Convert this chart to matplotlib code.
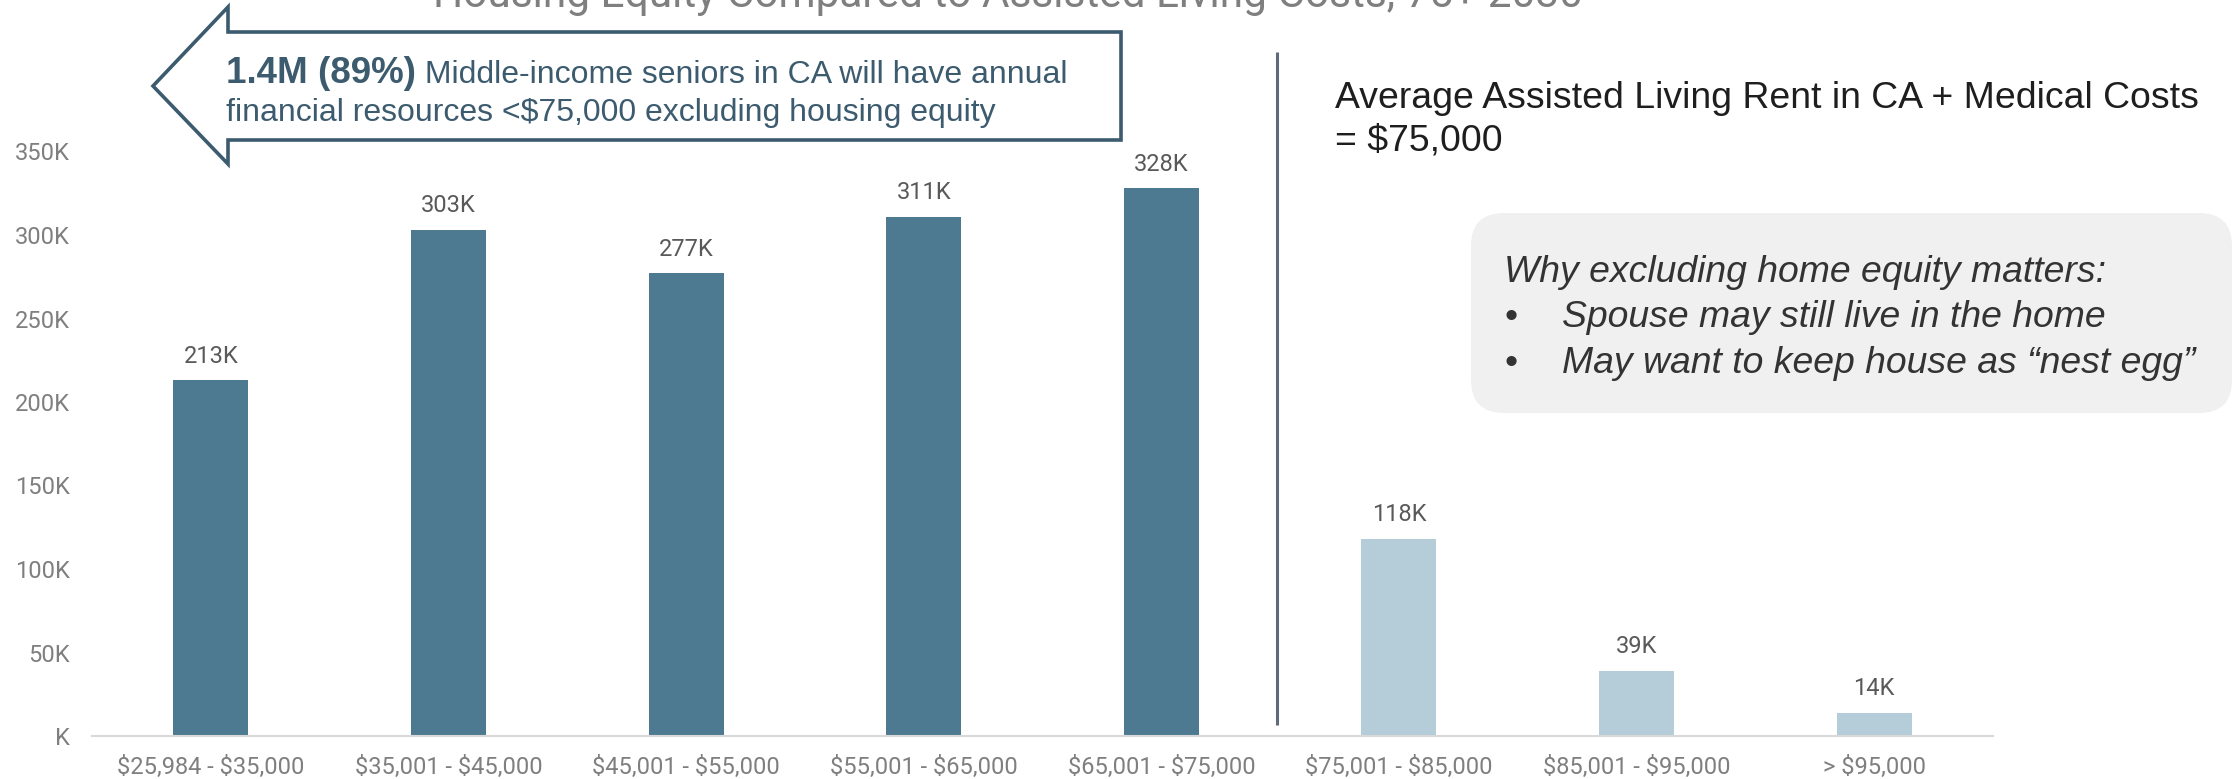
import numpy as np
import matplotlib.pyplot as plt
from matplotlib.patches import Polygon, FancyBboxPatch

plt.rcParams['font.family'] = ['Roboto', 'DejaVu Sans']

W, H, DPI = 2234, 779, 100

title = "Housing Equity Compared to Assisted Living Costs, 75+ 2030"
categories = ["$25,984 - $35,000", "$35,001 - $45,000", "$45,001 - $55,000",
              "$55,001 - $65,000", "$65,001 - $75,000", "$75,001 - $85,000",
              "$85,001 - $95,000", "> $95,000"]
seniors_k = [213, 303, 277, 311, 328, 118, 39, 14]
under_75k = [True, True, True, True, True, False, False, False]
yticks = [0, 50, 100, 150, 200, 250, 300, 350]
ytick_labels = ["K", "50K", "100K", "150K", "200K", "250K", "300K", "350K"]

callout_bold = "1.4M (89%)"
callout_line1 = " Middle-income seniors in CA will have annual"
callout_line2 = "financial resources <$75,000 excluding housing equity"
cost_lines = ["Average Assisted Living Rent in CA + Medical Costs", "= $75,000"]
why_title = "Why excluding home equity matters:"
why_bullets = ["Spouse may still live in the home", "May want to keep house as \u201cnest egg\u201d"]

dark_bar = "#4d7a91"
light_bar = "#b5cdd8"
slate = "#3c5b6e"
arial = "Liberation Sans"


def esc(s):
    return s.replace("$", r"\$")


def rect(x0, y0, x1, y1):
    # pixel box measured from the top-left corner
    return [x0 / W, 1 - y1 / H, (x1 - x0) / W, (y1 - y0) / H]


fig = plt.figure(figsize=(W / DPI, H / DPI), dpi=DPI)

ax = fig.add_axes(rect(92, 68, 1993, 736))
x = np.arange(len(categories))
colors = [dark_bar if u else light_bar for u in under_75k]
ax.bar(x, seniors_k, width=0.316, color=colors, zorder=2)
for xi, v in zip(x, seniors_k):
    ax.annotate(f"{v}K", (xi, v), xytext=(0, 9), textcoords="offset points",
                ha="center", va="bottom", fontsize=17, color="#595959")

ax.set_xlim(-0.5, len(categories) - 0.5)
ax.set_ylim(0, 400)
ax.set_yticks(yticks, ytick_labels)
ax.set_xticks(x, [esc(c) for c in categories])
ax.tick_params(length=0, labelsize=17, labelcolor="#7f7f7f")
ax.tick_params(axis="x", pad=14)
ax.tick_params(axis="y", pad=16)
for s in ["top", "right", "left"]:
    ax.spines[s].set_visible(False)
ax.spines["bottom"].set_color("#d9d9d9")
ax.spines["bottom"].set_linewidth(1.5)

# overlay in pixel coordinates for the annotations
ov = fig.add_axes([0, 0, 1, 1])
ov.set_xlim(0, W)
ov.set_ylim(H, 0)
ov.axis("off")

ov.text(1008, 7, title, ha="center", va="baseline", fontsize=30.5, color="#7f7f7f")

arrow_pts = [(1121, 32), (228, 32), (228, 7), (153, 86), (228, 164), (228, 140), (1121, 140)]
ov.add_patch(Polygon(arrow_pts, closed=True, facecolor="white", edgecolor=slate,
                     linewidth=2.6, joinstyle="miter"))

tb = ov.text(226, 83, callout_bold, ha="left", va="baseline", fontsize=26.5,
             fontweight="bold", color=slate, family=arial)
renderer = fig.canvas.get_renderer()
bw = tb.get_window_extent(renderer).width
ov.text(226 + bw, 83, callout_line1, ha="left", va="baseline", fontsize=23,
        color=slate, family=arial)
ov.text(226, 121, esc(callout_line2), ha="left", va="baseline", fontsize=23,
        color=slate, family=arial)

ov.plot([1277, 1277], [52, 725], color="#5f6b7a", lw=2.2, solid_capstyle="butt")

for line, yb in zip(cost_lines, [108, 150]):
    ov.text(1335, yb, esc(line), ha="left", va="baseline", fontsize=26.9,
            color="#1e1e1e", family=arial)

ov.add_patch(FancyBboxPatch((1471, 213), 2232 - 1471, 413 - 213,
                            boxstyle="round,pad=0,rounding_size=33",
                            facecolor="#f0f0f0", edgecolor="none"))
ov.text(1504, 282, why_title, ha="left", va="baseline", fontsize=26.9,
        style="italic", color="#333333", family=arial)
for line, yb in zip(why_bullets, [327, 373]):
    ov.text(1504, yb, "\u2022", ha="left", va="baseline", fontsize=26.9,
            color="#333333", family=arial)
    ov.text(1562, yb, line, ha="left", va="baseline", fontsize=26.9,
            style="italic", color="#333333", family=arial)

fig.savefig("out.png", dpi=DPI)
